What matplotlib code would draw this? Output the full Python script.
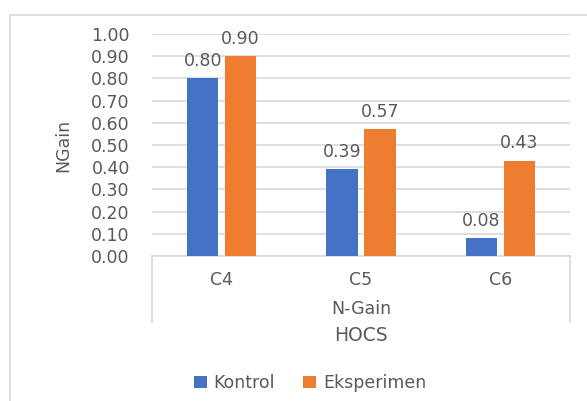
import matplotlib
matplotlib.use("Agg")
import matplotlib.pyplot as plt
from matplotlib.patches import Rectangle
from matplotlib.transforms import blended_transform_factory
import numpy as np

categories = ["C4", "C5", "C6"]
group_label = "N-Gain"
axis_title = "HOCS"
series_names = ["Kontrol", "Eksperimen"]
kontrol = [0.80, 0.39, 0.08]
eksperimen = [0.90, 0.57, 0.43]
y_ticks = [0.0, 0.1, 0.2, 0.3, 0.4, 0.5, 0.6, 0.7, 0.8, 0.9, 1.0]

BLUE = "#4472C4"
ORANGE = "#ED7D31"
TEXT = "#595959"
GRID = "#D9D9D9"
FS = 12.5

plt.rcParams["font.family"] = ["DejaVu Sans"]

fig = plt.figure(figsize=(5.87, 4.01), dpi=100)
fig.patch.set_facecolor("white")

# outer chart border (top and left edges visible)
fig.add_artist(Rectangle((10 / 587, -0.1), 1.2, 1 - 15 / 401 + 0.1,
                         transform=fig.transFigure, fill=False,
                         edgecolor=GRID, linewidth=1.2))

ax = fig.add_axes([152 / 587, 1 - 256 / 401, (570 - 152) / 587, (256 - 34) / 401])

x = np.arange(len(categories)) + 0.5
w = 0.225
off = 0.136
b1 = ax.bar(x - off, kontrol, w, color=BLUE, label=series_names[0], zorder=3)
b2 = ax.bar(x + off, eksperimen, w, color=ORANGE, label=series_names[1], zorder=3)

for bars, vals in ((b1, kontrol), (b2, eksperimen)):
    for r, v in zip(bars, vals):
        ax.annotate(f"{v:.2f}", (r.get_x() + r.get_width() / 2, v),
                    xytext=(0, 6), textcoords="offset points",
                    ha="center", va="bottom", fontsize=FS, color=TEXT)

ax.set_xlim(0, 3)
ax.set_ylim(0, 1.0)
ax.set_yticks(y_ticks)
ax.set_yticklabels([f"{t:.2f}" for t in y_ticks], fontsize=FS, color=TEXT)
ax.tick_params(axis="y", length=0, pad=16)
ax.set_xticks([])
ax.yaxis.grid(True, color=GRID, linewidth=1.2, zorder=0)
for s in ax.spines.values():
    s.set_visible(False)
ax.axhline(0, color=GRID, linewidth=1.2, zorder=2, clip_on=False)

# multi-level category axis
tr = blended_transform_factory(ax.transData, ax.transAxes)
for xv in (0, 3):
    ax.plot([xv, xv], [0, -0.297], transform=tr, color=GRID, linewidth=1.2, clip_on=False)
for xv, c in zip(x, categories):
    ax.text(xv, -0.108, c, transform=tr, ha="center", va="center", fontsize=FS, color=TEXT)
ax.text(1.5, -0.237, group_label, transform=tr, ha="center", va="center", fontsize=FS, color=TEXT)
ax.text(1.5, -0.36, axis_title, transform=tr, ha="center", va="center", fontsize=FS + 1, color=TEXT)

fig.text(63 / 587, 1 - 145 / 401, "NGain", rotation=90, ha="center", va="center",
         fontsize=FS, color=TEXT)

fig.legend(handles=[b1, b2], loc="center", bbox_to_anchor=(310 / 587, 1 - 383 / 401),
           ncol=2, frameon=False, fontsize=FS, labelcolor=TEXT,
           handlelength=0.75, handleheight=0.75, handletextpad=0.4, columnspacing=1.6)

fig.savefig("out.png", dpi=100, facecolor="white")
